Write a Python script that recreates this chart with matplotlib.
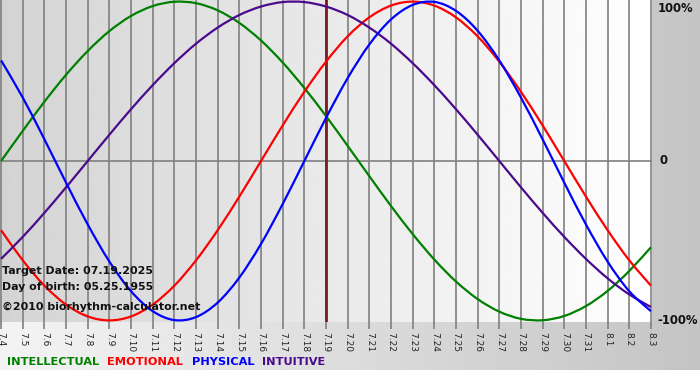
import numpy as np
import matplotlib
matplotlib.use('Agg')
import matplotlib.pyplot as plt
from matplotlib.path import Path
from matplotlib.patches import PathPatch

# day labels (month.day), 7.4 .. 8.3
days = ['7.4', '7.5', '7.6', '7.7', '7.8', '7.9', '7.10', '7.11', '7.12', '7.13',
        '7.14', '7.15', '7.16', '7.17', '7.18', '7.19', '7.20', '7.21', '7.22',
        '7.23', '7.24', '7.25', '7.26', '7.27', '7.28', '7.29', '7.30', '7.31',
        '8.1', '8.2', '8.3']
target_day = '7.19'

# cycle values (1 = 100%)
intellectual = [0.000, 0.189, 0.372, 0.541, 0.690, 0.815, 0.910, 0.972, 0.999,
                0.990, 0.945, 0.866, 0.756, 0.618, 0.458, 0.282, 0.095, -0.095,
                -0.282, -0.458, -0.618, -0.756, -0.866, -0.945, -0.990, -0.999,
                -0.972, -0.910, -0.815, -0.690, -0.541]
emotional = [-0.434, -0.623, -0.782, -0.901, -0.975, -1.000, -0.975, -0.901,
             -0.782, -0.623, -0.434, -0.223, 0.000, 0.223, 0.434, 0.623, 0.782,
             0.901, 0.975, 1.000, 0.975, 0.901, 0.782, 0.623, 0.434, 0.223,
             0.000, -0.223, -0.434, -0.623, -0.782]
physical = [0.631, 0.398, 0.136, -0.136, -0.398, -0.631, -0.817, -0.942,
            -0.998, -0.979, -0.888, -0.731, -0.520, -0.270, 0.000, 0.270,
            0.520, 0.731, 0.888, 0.979, 0.998, 0.942, 0.817, 0.631, 0.398,
            0.136, -0.136, -0.398, -0.631, -0.817, -0.942]
intuitive = [-0.614, -0.476, -0.325, -0.165, 0.000, 0.165, 0.325, 0.476, 0.614,
             0.736, 0.837, 0.916, 0.969, 0.997, 0.997, 0.969, 0.916, 0.837,
             0.736, 0.614, 0.476, 0.325, 0.165, 0.000, -0.165, -0.325, -0.476,
             -0.614, -0.736, -0.837, -0.916]

series = [('INTELLECTUAL', intellectual, '#008000'),
          ('EMOTIONAL', emotional, '#ff0000'),
          ('INTUITIVE', intuitive, '#4b0a8c'),
          ('PHYSICAL', physical, '#0000ff')]
legend_order = ['INTELLECTUAL', 'EMOTIONAL', 'PHYSICAL', 'INTUITIVE']
notes = ['Target Date: 07.19.2025', 'Day of birth: 05.25.1955',
         '\u00a92010 biorhythm-calculator.net']

plt.rcParams['font.family'] = ['DejaVu Sans']


def smooth_path(xs, ys):
    # catmull-rom through the points, drawn as cubic bezier segments
    pts = np.column_stack([xs, ys]).astype(float)
    ext = np.vstack([pts[0], pts, pts[-1]])
    verts = [pts[0]]
    codes = [Path.MOVETO]
    for i in range(len(pts) - 1):
        p0, p1, p2, p3 = ext[i], ext[i + 1], ext[i + 2], ext[i + 3]
        verts += [p1 + (p2 - p0) / 6, p2 - (p3 - p1) / 6, p2]
        codes += [Path.CURVE4] * 3
    return Path(verts, codes)


W, H = 700, 380
fig = plt.figure(figsize=(7, 3.8), dpi=100)
fig.patch.set_facecolor('white')

# outer grey gradient (light on the left, darker on the right)
bg = fig.add_axes([0, 10 / H, 1, 370 / H], zorder=-2)
grad = np.linspace(0.955, 0.77, 256).reshape(1, -1)
bg.imshow(grad, cmap='gray', vmin=0, vmax=1, aspect='auto', extent=(0, 1, 0, 1))
bg.axis('off')

ax = fig.add_axes([0, 58 / H, 652 / W, 322 / H])
x = np.arange(len(days))
ax.set_xlim(-0.05, len(days) - 1 + 0.05)
ax.set_ylim(-1.01, 1.01)

# plot area gradient
inner = np.linspace(0.83, 1.0, 256).reshape(1, -1)
ax.imshow(inner, cmap='gray', vmin=0, vmax=1, aspect='auto',
          extent=(-0.05, len(days) - 1 + 0.05, -1.01, 1.01), zorder=0)

for xi in x:
    ax.axvline(xi, color='#808080', lw=1.2, zorder=1)
ax.axhline(0, color='#808080', lw=1.2, zorder=1)
ax.axvline(days.index(target_day), color='#7a1c1c', lw=2, zorder=2)

for name, vals, col in series:
    ax.add_patch(PathPatch(smooth_path(x, vals), fill=False, edgecolor=col,
                           lw=1.6, zorder=3))

for sp in ax.spines.values():
    sp.set_visible(False)
ax.set_xticks(x)
ax.set_xticklabels(days)
ax.tick_params(axis='x', length=5, width=1.2, color='#808080', pad=2,
               labelrotation=270, labelsize=6.5, labelcolor='#222222')
ax.set_yticks([])

# right-hand percentage labels
tr = ax.get_yaxis_transform()
ax.text(1.009, 1.0, '100%', transform=tr, va='top', ha='left',
        fontsize=8.4, fontweight='bold', color='#111111', clip_on=False)
ax.text(1.012, 0.0, '0', transform=tr, va='center', ha='left',
        fontsize=8.4, fontweight='bold', color='#111111', clip_on=False)
ax.text(1.009, -1.0, '-100%', transform=tr, va='center', ha='left',
        fontsize=8.4, fontweight='bold', color='#111111', clip_on=False)

# info notes inside the plot
for txt, ypix in zip(notes, [271, 287, 307]):
    fig.text(2 / W, 1 - ypix / H, txt, ha='left', va='center', fontsize=7.9,
             fontweight='bold', color='#111111', zorder=5)

# coloured legend words
colors = {name: col for name, _, col in series}
for name, xpix in zip(legend_order, [7, 107, 192, 262]):
    fig.text(xpix / W, 1 - 362 / H, name, ha='left', va='center', fontsize=8.2,
             fontweight='bold', color=colors[name])

fig.savefig('out.png', dpi=100, facecolor=fig.get_facecolor())
